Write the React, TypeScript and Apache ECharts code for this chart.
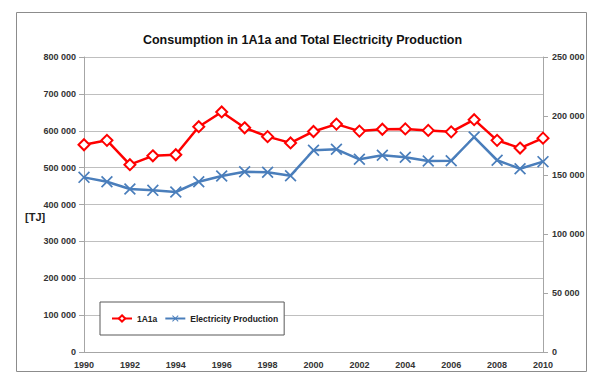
import React, { useEffect, useRef } from "react";
import * as echarts from "echarts";

const years = [1990, 1991, 1992, 1993, 1994, 1995, 1996, 1997, 1998, 1999, 2000, 2001, 2002, 2003, 2004, 2005, 2006, 2007, 2008, 2009, 2010];
const consumption1A1a = [562000, 574000, 508000, 532000, 535000, 611000, 651000, 608000, 584000, 567000, 598000, 618000, 599000, 604000, 605000, 601000, 597000, 630000, 574000, 553000, 580000];
const electricityProduction = [148000, 144300, 138100, 137000, 135600, 144300, 149200, 152800, 152300, 149400, 171000, 171800, 163300, 166700, 165000, 161900, 162100, 182200, 162500, 155300, 161300];

const seriesNames = ["1A1a", "Electricity Production"];
const titleText = "Consumption in 1A1a and Total Electricity Production";
const unitLabel = "[TJ]";

const xMin = 1990;
const xMax = 2010;
const xStep = 2;
const leftMax = 800000;
const leftStep = 100000;
const rightMax = 250000;
const rightStep = 50000;

const fmt = (v: number) => String(v).replace(/\B(?=(\d{3})+(?!\d))/g, " ");

const crossPath =
  "path://M0,1L1,0L5,4L9,0L10,1L6,5L10,9L9,10L5,6L1,10L0,9L4,5Z";

export default function App() {
  const ref = useRef<HTMLDivElement>(null);
  useEffect(() => {
    if (!ref.current) return;
    const chart = echarts.init(ref.current, undefined, { renderer: "svg" });
    const labelStyle = {
      color: "#333333",
      fontFamily: "Liberation Sans",
      fontWeight: "bold" as const,
      fontSize: 9,
    };
    const axisGray = "#A6A6A6";
    chart.setOption({
      animation: false,
      backgroundColor: "#ffffff",
      title: {
        text: titleText,
        left: "center",
        top: 33,
        padding: 0,
        textStyle: {
          fontFamily: "Liberation Sans",
          fontWeight: "bold",
          fontSize: 12.5,
          color: "#111111",
        },
      },
      graphic: [
        {
          type: "rect",
          shape: { x: 16.5, y: 12.5, width: 570, height: 359 },
          style: { fill: "none", stroke: "#8C8C8C", lineWidth: 1 },
          z: 0,
        },
        {
          type: "text",
          left: 25,
          top: 211,
          style: {
            text: unitLabel,
            fontFamily: "Liberation Sans",
            fontWeight: "bold",
            fontSize: 11,
            fill: "#222222",
          },
        },
      ],
      legend: {
        left: 100,
        top: 302,
        orient: "horizontal",
        padding: [12, 6, 12, 11],
        itemGap: 7,
        itemWidth: 20,
        itemHeight: 8,
        borderColor: "#595959",
        borderWidth: 1,
        backgroundColor: "#ffffff",
        textStyle: {
          fontFamily: "Liberation Sans",
          fontWeight: "bold",
          fontSize: 8.5,
          color: "#222222",
        },
        data: seriesNames,
      },
      grid: { left: 84, right: 62, top: 57, bottom: 32, containLabel: false },
      xAxis: {
        type: "value",
        min: xMin,
        max: xMax,
        interval: xStep,
        axisLabel: { ...labelStyle, margin: 8, formatter: (v: number) => String(v) },
        axisLine: { show: true, lineStyle: { color: axisGray, width: 1 } },
        axisTick: { show: false },
        splitLine: { show: false },
      },
      yAxis: [
        {
          type: "value",
          position: "left",
          min: 0,
          max: leftMax,
          interval: leftStep,
          axisLabel: { ...labelStyle, margin: 8, formatter: (v: number) => fmt(v) },
          axisLine: { show: true, lineStyle: { color: axisGray, width: 1 } },
          axisTick: { show: true, length: 5, lineStyle: { color: axisGray } },
          splitLine: { show: true, lineStyle: { color: "#BFBFBF", width: 1 } },
        },
        {
          type: "value",
          position: "right",
          min: 0,
          max: rightMax,
          interval: rightStep,
          axisLabel: { ...labelStyle, margin: 9, formatter: (v: number) => fmt(v) },
          axisLine: { show: true, lineStyle: { color: axisGray, width: 1 } },
          axisTick: { show: true, length: 5, lineStyle: { color: axisGray } },
          splitLine: { show: false },
        },
      ],
      series: [
        {
          name: seriesNames[0],
          type: "line",
          yAxisIndex: 0,
          data: years.map((y, i) => [y, consumption1A1a[i]]),
          symbol: "emptyDiamond",
          symbolSize: 11,
          showAllSymbol: true,
          lineStyle: { color: "#FF0000", width: 2.5 },
          itemStyle: { color: "#FF0000", borderWidth: 1.8 },
          z: 3,
        },
        {
          name: seriesNames[1],
          type: "line",
          yAxisIndex: 1,
          data: years.map((y, i) => [y, electricityProduction[i]]),
          symbol: crossPath,
          symbolSize: 12,
          showAllSymbol: true,
          lineStyle: { color: "#4A7EBB", width: 2.5 },
          itemStyle: { color: "#4A7EBB", borderWidth: 0 },
          z: 2,
        },
      ],
    });
    return () => chart.dispose();
  }, []);
  return (
    <div
      ref={ref}
      style={{ position: "absolute", left: 0, top: 0, width: 605, height: 384 }}
    />
  );
}
